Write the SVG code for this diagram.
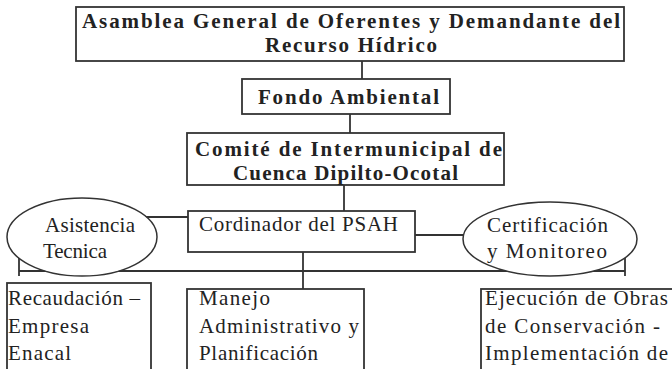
<svg xmlns="http://www.w3.org/2000/svg" width="672" height="369" viewBox="0 0 672 369">
<style>
.box{fill:#fff;stroke:#333;stroke-width:1.8}
.ell{fill:#fff;stroke:#333;stroke-width:1.5}
.ln{stroke:#333;stroke-width:1.8;fill:none}
.b{font-family:"Liberation Serif","Times New Roman",serif;font-weight:bold;font-size:21px;fill:#222}
.r{font-family:"Liberation Serif","Times New Roman",serif;font-size:21px;fill:#222}
</style>
<rect width="672" height="369" fill="#fff"/>
<g id="connectors">
<line class="ln" x1="362" y1="61" x2="362" y2="79"/>
<line class="ln" x1="350" y1="114" x2="350" y2="133"/>
<line class="ln" x1="344" y1="185" x2="344" y2="211"/>
<line class="ln" x1="140" y1="217" x2="188" y2="217"/>
<line class="ln" x1="415" y1="235" x2="470" y2="235"/>
<line class="ln" x1="303" y1="252" x2="303" y2="289"/>
<line class="ln" x1="19" y1="271" x2="625" y2="271"/>
<line class="ln" x1="19" y1="250" x2="19" y2="276"/>
<line class="ln" x1="625" y1="250" x2="625" y2="276"/>
</g>
<g id="asamblea">
<rect class="box" x="76" y="7" width="548" height="54"/>
<text class="b" x="82" y="28" textLength="538" lengthAdjust="spacing">Asamblea General de Oferentes y Demandante del</text>
<text class="b" x="265" y="52" textLength="172" lengthAdjust="spacing">Recurso Hídrico</text>
</g>
<g id="fondo">
<rect class="box" x="242" y="79" width="208" height="35"/>
<text class="b" x="258" y="104" textLength="181" lengthAdjust="spacing">Fondo Ambiental</text>
</g>
<g id="comite">
<rect class="box" x="187" y="133" width="317" height="52"/>
<text class="b" x="195" y="156" textLength="307" lengthAdjust="spacing">Comité de Intermunicipal de</text>
<text class="b" x="233" y="180" textLength="225" lengthAdjust="spacing">Cuenca Dipilto-Ocotal</text>
</g>
<g id="cordinador">
<rect class="box" x="188" y="211" width="227" height="41"/>
<text class="r" x="199" y="231" textLength="199" lengthAdjust="spacing">Cordinador del PSAH</text>
</g>
<g id="asistencia">
<ellipse class="ell" cx="82" cy="237" rx="75" ry="39"/>
<text class="r" x="45" y="232" textLength="90" lengthAdjust="spacing">Asistencia</text>
<text class="r" x="43" y="258" textLength="64" lengthAdjust="spacing">Tecnica</text>
</g>
<g id="certificacion">
<ellipse class="ell" cx="550" cy="239" rx="87" ry="37"/>
<text class="r" x="487" y="232" textLength="121" lengthAdjust="spacing">Certificación</text>
<text class="r" x="487" y="258" textLength="120" lengthAdjust="spacing">y Monitoreo</text>
</g>
<g id="recaudacion">
<rect class="box" x="7" y="283" width="144" height="100"/>
<text class="r" x="8" y="305" textLength="132" lengthAdjust="spacing">Recaudación –</text>
<text class="r" x="8" y="333" textLength="81" lengthAdjust="spacing">Empresa</text>
<text class="r" x="8" y="360" textLength="63" lengthAdjust="spacing">Enacal</text>
</g>
<g id="manejo">
<rect class="box" x="187" y="289" width="177" height="100"/>
<text class="r" x="199" y="305" textLength="71" lengthAdjust="spacing">Manejo</text>
<text class="r" x="199" y="333" textLength="160" lengthAdjust="spacing">Administrativo y</text>
<text class="r" x="199" y="360" textLength="119" lengthAdjust="spacing">Planificación</text>
</g>
<g id="ejecucion">
<rect class="box" x="481" y="289" width="200" height="100"/>
<text class="r" x="485" y="305" textLength="183" lengthAdjust="spacing">Ejecución de Obras</text>
<text class="r" x="485" y="333" textLength="175" lengthAdjust="spacing">de Conservación -</text>
<text class="r" x="485" y="360" textLength="183" lengthAdjust="spacing">Implementación de</text>
</g>
</svg>
